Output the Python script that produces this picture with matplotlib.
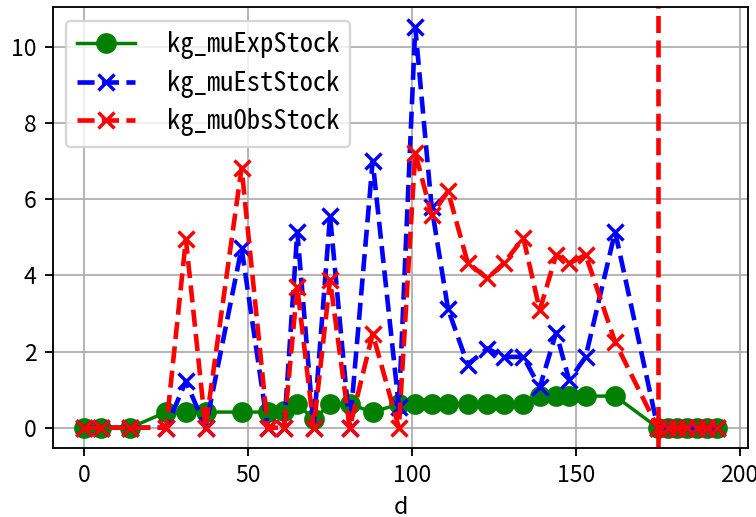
import numpy as np
import matplotlib
matplotlib.use("Agg")
import matplotlib.pyplot as plt
from matplotlib.ticker import MultipleLocator

# day index and the three stock series
d = [0, 5, 14, 25, 31, 37, 48, 56, 61, 65, 70, 75, 81, 88, 96, 101, 106,
     111, 117, 123, 128, 134, 139, 144, 148, 153, 162,
     175, 178, 181, 184, 187, 190, 193]

kg_muExpStock = [0, 0, 0, 0.41, 0.41, 0.41, 0.41, 0.41, 0.45, 0.62, 0.22,
                 0.62, 0.62, 0.41, 0.62, 0.62, 0.62, 0.62, 0.62, 0.62, 0.62,
                 0.62, 0.83, 0.83, 0.83, 0.83, 0.83,
                 0, 0, 0, 0, 0, 0, 0]

kg_muEstStock = [0, 0, 0, 0, 1.22, 0, 4.72, 0, 0, 5.15, 0, 5.57, 0, 7.0,
                 0.55, 10.52, 5.8, 3.12, 1.66, 2.08, 1.86, 1.86, 1.06, 2.5,
                 1.24, 1.86, 5.15,
                 0, 0, 0, 0, 0, 0, 0]

kg_muObsStock = [0, 0, 0, 0, 4.95, 0, 6.83, 0, 0, 3.70, 0, 3.88, 0, 2.47,
                 0, 7.22, 5.59, 6.21, 4.34, 3.92, 4.32, 4.98, 3.09, 4.54,
                 4.32, 4.54, 2.25,
                 0, 0, 0, 0, 0, 0, 0]

cutoff_day = 175

TICK_FONT = ["Noto Sans CJK JP", "DejaVu Sans"]
LEGEND_FONT = ["Noto Sans Mono CJK JP", "DejaVu Sans Mono"]


def main():
    dpi = 166
    fig = plt.figure(figsize=(756 / dpi, 517 / dpi), dpi=dpi)
    ax = fig.add_axes([52.7 / 756, 1 - 447.7 / 517,
                       (748.3 - 52.7) / 756, (447.7 - 7.3) / 517])

    ax.plot(d, kg_muExpStock, "g-o", linewidth=1.5, markersize=8,
            label="kg_muExpStock")
    ax.plot(d, kg_muEstStock, "b--x", linewidth=2, markersize=7,
            markeredgewidth=1.5, label="kg_muEstStock")
    ax.plot(d, kg_muObsStock, "r--x", linewidth=2, markersize=7,
            markeredgewidth=1.5, label="kg_muObsStock")
    ax.axvline(cutoff_day, color="r", linestyle="--", linewidth=2)

    ax.xaxis.set_major_locator(MultipleLocator(50))
    ax.grid(True)
    ax.set_xlabel("d", family=TICK_FONT)
    for lab in ax.get_xticklabels() + ax.get_yticklabels():
        lab.set_family(TICK_FONT)

    ax.legend(loc="upper left", prop={"family": LEGEND_FONT, "size": 11.5},
              handlelength=2.2, handletextpad=1.2, labelspacing=0.4)

    fig.savefig("out.png", dpi=dpi)
    plt.close(fig)


if __name__ == "__main__":
    main()
